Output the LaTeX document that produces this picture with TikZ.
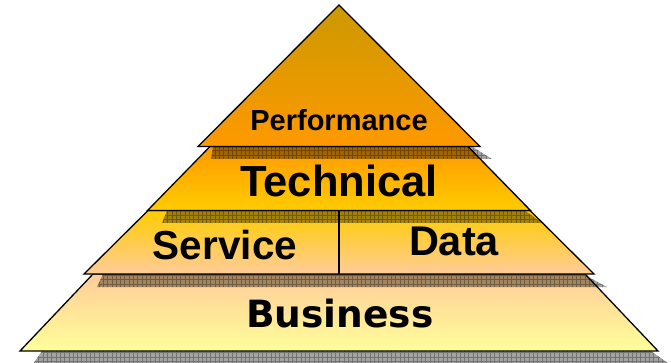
\documentclass[tikz,border=0pt]{standalone}
\usepackage{fontspec}
\setmainfont{Liberation Sans}
\newfontfamily\dejavubold{DejaVu Sans}[BoldFont={DejaVu Sans Bold}]
\definecolor{perfTop}{RGB}{204,153,0}
\definecolor{perfBot}{RGB}{255,153,0}
\definecolor{techTop}{RGB}{255,153,0}
\definecolor{techBot}{RGB}{255,204,0}
\definecolor{servTop}{RGB}{255,204,0}
\definecolor{servMid}{RGB}{255,204,120}
\definecolor{servBot}{RGB}{255,204,153}
\definecolor{busTop}{RGB}{255,204,153}
\definecolor{busBot}{RGB}{255,255,153}
\tikzset{
  layer/.style={draw=black, line width=1.3pt, line join=miter},
  shadowfill/.style={fill=black, fill opacity=0.36},
  shadowgrid/.style={draw=black, opacity=0.3, line width=0.5pt},
  label/.style={anchor=base, inner sep=0pt, text=black}
}
\newcommand\shadowband[1]{%
  \fill[shadowfill] #1 -- cycle;
  \begin{scope}
    \clip #1 -- cycle;
    \draw[shadowgrid] (0,0) grid[step=4.3pt] (671,363);
  \end{scope}}
\begin{document}
\begin{tikzpicture}[x=1pt,y=-1pt]
  \useasboundingbox (0,0) rectangle (671,363);
  % Business
  \shadowband{(42,351) -- (651,351) -- (669,364) -- (33,364)}
  \draw[layer, top color=busTop, bottom color=busBot]
    (93,274) -- (585,274) -- (658,351) -- (20,351) -- cycle;
  % Service / Data
  \shadowband{(103,274) -- (583,274) -- (607,287) -- (97,287)}
  \draw[layer, top color=servTop, middle color=servMid, bottom color=servBot]
    (148,210.5) -- (530,210.5) -- (594,274) -- (84,274) -- cycle;
  \coordinate (divtop) at (339,210.5);
  \coordinate (divbot) at (339,274);
  \draw[black, line width=1.1pt] (divtop) -- (divbot);
  % Technical
  \shadowband{(167,210.5) -- (525,210.5) -- (542,223) -- (162,223)}
  \draw[layer, top color=techTop, bottom color=techBot]
    (210,146.5) -- (468,146.5) -- (530.5,210.5) -- (147.5,210.5) -- cycle;
  % Performance
  \shadowband{(213,146.5) -- (472,146.5) -- (492,159) -- (211,159)}
  \draw[layer, top color=perfTop, bottom color=perfBot]
    (339,5) -- (480,146.5) -- (198,146.5) -- cycle;
  % Labels
  \node[label, font=\bfseries\fontsize{29}{29}\selectfont] (perf) at (339,131) {Performance};
  \node[label, font=\bfseries\fontsize{43.5}{43.5}\selectfont] (tech) at (339,197) {Technical};
  \node[label, font=\bfseries\fontsize{40.5}{40.5}\selectfont] (serv) at (225,259) {Service};
  \node[label, font=\bfseries\fontsize{41.5}{41.5}\selectfont] (data) at (454,255) {Data};
  \node[label, font=\dejavubold\bfseries\fontsize{37.5}{37.5}\selectfont] (bus) at (340,327) {Business};
\end{tikzpicture}
\end{document}
